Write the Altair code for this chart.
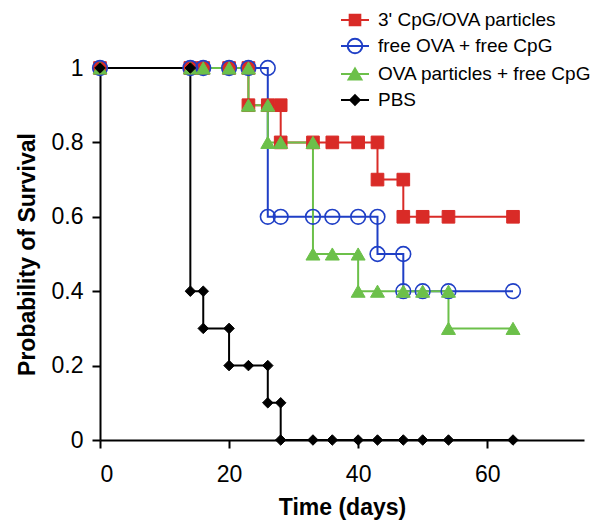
import altair as alt
import pandas as pd

series_names = ["3' CpG/OVA particles", "free OVA + free CpG", "OVA particles + free CpG", "PBS"]
colors = ["#d92b27", "#1f3fc6", "#6cc04a", "#000000"]
fills = ["#d92b27", "transparent", "#6cc04a", "#000000"]

red_t = [0, 14, 16, 20, 23, 23, 26, 28, 28, 33, 36, 40, 43, 43, 47, 47, 50, 54, 64]
red_s = [1, 1, 1, 1, 1, 0.9, 0.9, 0.9, 0.8, 0.8, 0.8, 0.8, 0.8, 0.7, 0.7, 0.6, 0.6, 0.6, 0.6]

blue_t = [0, 14, 16, 20, 23, 26, 26, 28, 33, 36, 40, 43, 43, 47, 47, 50, 54, 64]
blue_s = [1, 1, 1, 1, 1, 1, 0.6, 0.6, 0.6, 0.6, 0.6, 0.6, 0.5, 0.5, 0.4, 0.4, 0.4, 0.4]

green_t = [0, 14, 16, 20, 23, 23, 26, 26, 28, 33, 33, 36, 40, 40, 43, 47, 50, 54, 54, 64]
green_s = [1, 1, 1, 1, 1, 0.9, 0.9, 0.8, 0.8, 0.8, 0.5, 0.5, 0.5, 0.4, 0.4, 0.4, 0.4, 0.4, 0.3, 0.3]

black_t = [0, 14, 14, 16, 16, 20, 20, 23, 26, 26, 28, 28, 33, 36, 40, 43, 47, 50, 54, 64]
black_s = [1, 1, 0.4, 0.4, 0.3, 0.3, 0.2, 0.2, 0.2, 0.1, 0.1, 0, 0, 0, 0, 0, 0, 0, 0, 0]

x_ticks = [0, 20, 40, 60]
y_ticks = [0, 0.2, 0.4, 0.6, 0.8, 1]

# marker styles (plot)
marker_shapes = ["square", "circle", "triangle-up", "diamond"]
marker_sizes = [160, 215, 195, 110]
marker_stroke_w = [1, 1.6, 1, 1]

# legend symbols: line + marker
legend_paths = [
    "M-1,0H1M-0.38,-0.38H0.38V0.38H-0.38Z",
    "M-1,0H1M0.52,0A0.52,0.52 0 1,1 -0.52,0A0.52,0.52 0 1,1 0.52,0Z",
    "M-1,0H1M0,-0.4L0.46,0.4H-0.46Z",
    "M-1,0H1M0,-0.34L0.34,0L0,0.34L-0.34,0Z",
]

rows = []
for k, (ts, ss) in enumerate([(red_t, red_s), (blue_t, blue_s), (green_t, green_s), (black_t, black_s)]):
    for i, (t, s) in enumerate(zip(ts, ss)):
        rows.append({"series": series_names[k], "k": k, "idx": i, "t": t, "s": s})
df = pd.DataFrame(rows)

FONT = "Liberation Sans"

x_enc = alt.X(
    "t:Q",
    scale=alt.Scale(domain=[0, 75], nice=False, zero=False),
    axis=alt.Axis(values=x_ticks, title="Time (days)", labelPadding=15, titlePadding=10),
)
y_enc = alt.Y(
    "s:Q",
    scale=alt.Scale(domain=[0, 1], nice=False),
    axis=alt.Axis(values=y_ticks, format="~g", title="Probability of Survival", labelPadding=9, titlePadding=12),
)

base = alt.Chart(df)

layers = []
for k in range(4):
    layers.append(
        base.transform_filter(alt.datum.k == k)
        .mark_line(strokeWidth=2, color=colors[k])
        .encode(x=x_enc, y=y_enc, order="idx:Q")
    )
for k in range(4):
    layers.append(
        base.transform_filter(alt.datum.k == k)
        .mark_point(
            shape=marker_shapes[k],
            size=marker_sizes[k],
            fill=fills[k],
            stroke=colors[k],
            strokeWidth=marker_stroke_w[k],
            opacity=1,
        )
        .encode(x=x_enc, y=y_enc)
    )

leg_common = dict(
    orient="none",
    legendX=240,
    legendY=-63,
    title=None,
    symbolSize=784,
    symbolStrokeWidth=2,
    symbolOpacity=1,
    labelFont=FONT,
    labelFontSize=19,
    labelColor="#000000",
    labelOffset=8,
    labelLimit=400,
    rowPadding=1,
    padding=0,
)

legend_layer = (
    base.transform_filter("datum.t < 0")
    .mark_point(opacity=1)
    .encode(
        x=x_enc,
        y=y_enc,
        shape=alt.Shape("series:N", scale=alt.Scale(domain=series_names, range=legend_paths), legend=alt.Legend(**leg_common)),
        fill=alt.Fill("series:N", scale=alt.Scale(domain=series_names, range=fills), legend=alt.Legend(**leg_common)),
        stroke=alt.Stroke("series:N", scale=alt.Scale(domain=series_names, range=colors), legend=alt.Legend(**leg_common)),
    )
)
layers.append(legend_layer)

chart = (
    alt.layer(*layers)
    .properties(
        width=484,
        height=372,
        autosize=alt.AutoSizeParams(type="none"),
        padding={"left": 92, "top": 60, "right": 9, "bottom": 81},
        background="white",
    )
    .configure_view(stroke=None)
    .configure_axis(
        grid=False,
        domainColor="#000000",
        domainWidth=2,
        tickColor="#000000",
        tickWidth=2,
        tickSize=8,
        labelFont=FONT,
        labelFontSize=23,
        labelColor="#000000",
        titleFont=FONT,
        titleFontSize=23,
        titleFontWeight="bold",
        titleColor="#000000",
    )
)

chart.save("out.html", embed_options={"renderer": "svg", "actions": False})
